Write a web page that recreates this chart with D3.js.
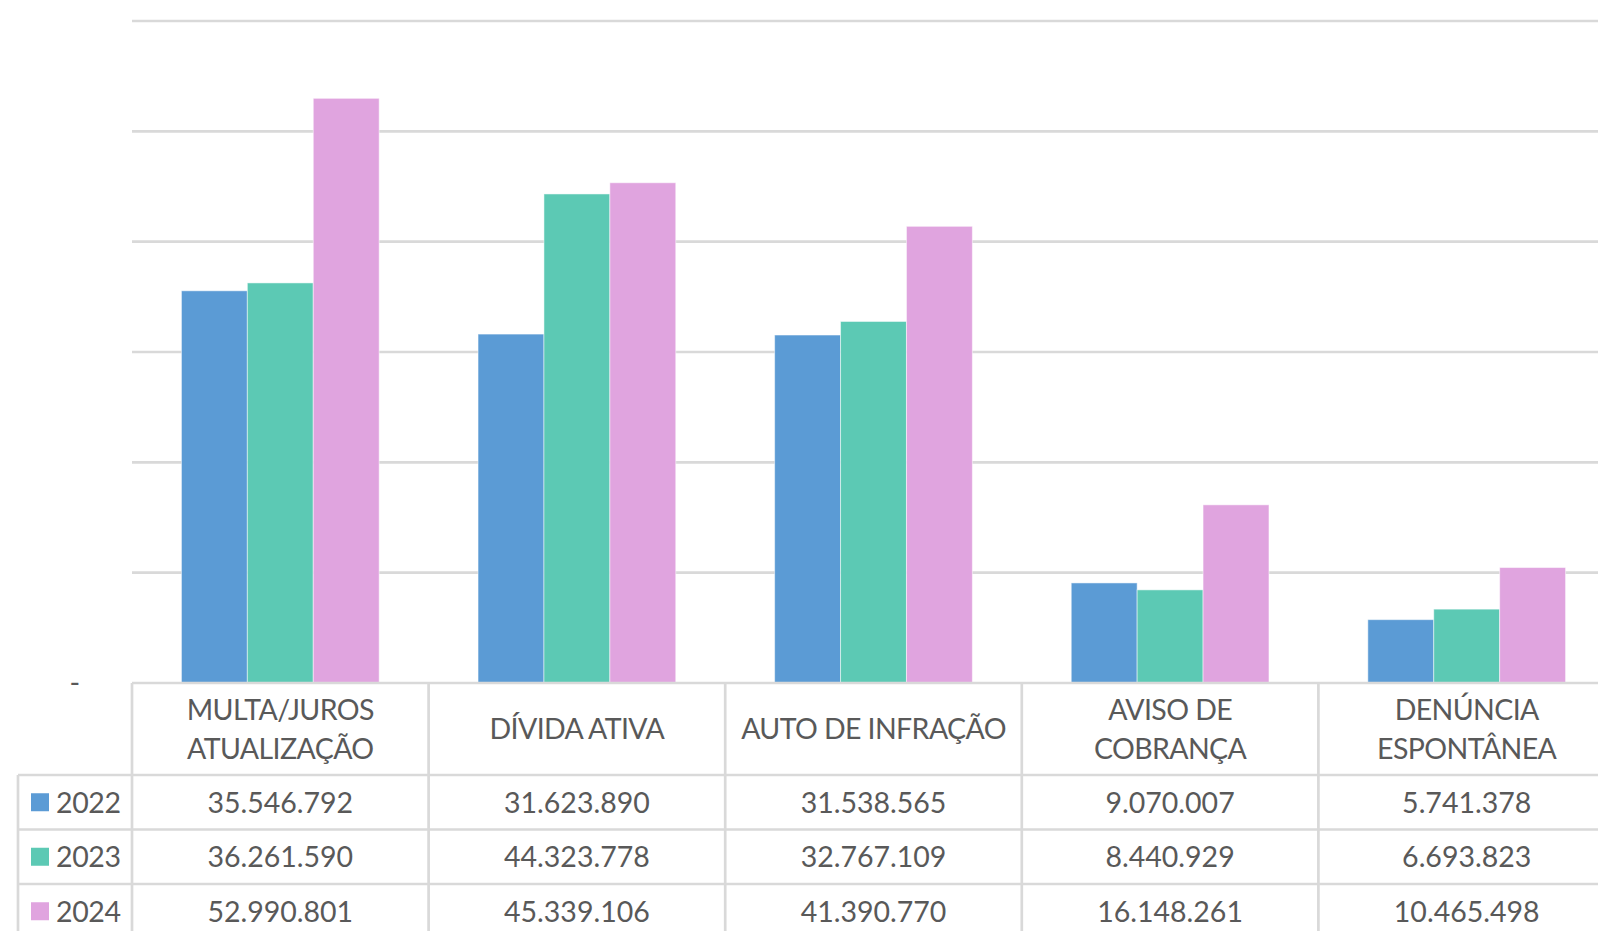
<!DOCTYPE html>
<html>
<head>
<meta charset="utf-8">
<script src="https://cdn.jsdelivr.net/npm/d3@7/dist/d3.min.js"></script>
<style>
  html, body { margin: 0; padding: 0; background: #fff; overflow: hidden; }
  svg { display: block; }
  text { font-family: Lato, "Open Sans", sans-serif; fill: #595959; }
</style>
</head>
<body>
<svg id="chart" width="1598" height="931"></svg>
<script>
// ---- data ----
const categories = ["MULTA/JUROS ATUALIZAÇÃO", "DÍVIDA ATIVA", "AUTO DE INFRAÇÃO", "AVISO DE COBRANÇA", "DENÚNCIA ESPONTÂNEA"];
const categoryLines = [["MULTA/JUROS", "ATUALIZAÇÃO"], ["DÍVIDA ATIVA"], ["AUTO DE INFRAÇÃO"], ["AVISO DE", "COBRANÇA"], ["DENÚNCIA", "ESPONTÂNEA"]];
const years = ["2022", "2023", "2024"];
const values2022 = [35546792, 31623890, 31538565, 9070007, 5741378];
const values2023 = [36261590, 44323778, 32767109, 8440929, 6693823];
const values2024 = [52990801, 45339106, 41390770, 16148261, 10465498];
const seriesValues = [values2022, values2023, values2024];
const yTicks = [0, 10000000, 20000000, 30000000, 40000000, 50000000, 60000000];
const yTickLabel = v => v === 0 ? "-" : "";
const colors = ["#5B9BD5", "#5CC9B4", "#E0A4DF"];

// ---- layout ----
const svg = d3.select("#chart");
const plotLeft = 132, colW = 296.6;
const plotRight = plotLeft + colW * categories.length;
const baseY = 683, topY = 21;
const headerH = 92, rowH = 54.5;
const legendLeft = 18;
const gridColor = "#D9D9D9", gridW = 2.7;
const fs = 28.5;

const x = d3.scaleBand().domain(categories).range([plotLeft, plotRight]).paddingInner(0).paddingOuter(0);
const x1 = d3.scaleBand().domain(years).range([colW * 0.75 / 4.5, colW - colW * 0.75 / 4.5]).padding(0);
const y = d3.scaleLinear().domain([0, 60000000]).range([baseY, topY]);

// gridlines
svg.append("g").selectAll("line").data(yTicks.filter(v => v > 0)).join("line")
  .attr("x1", plotLeft).attr("x2", plotRight)
  .attr("y1", d => y(d)).attr("y2", d => y(d))
  .attr("stroke", gridColor).attr("stroke-width", gridW);

// y axis (labels only)
const yAxis = d3.axisLeft(y).tickValues(yTicks).tickFormat(yTickLabel).tickSize(0).tickPadding(0);
const yg = svg.append("g").attr("transform", `translate(${plotLeft - 52},0)`).call(yAxis);
yg.select(".domain").remove();
yg.selectAll("text").style("font-family", "Lato, sans-serif").style("font-size", fs + "px").attr("fill", "#595959").attr("dy", "0.32em");

// bars
const groups = svg.append("g").selectAll("g").data(categories).join("g")
  .attr("transform", d => `translate(${x(d)},0)`);
groups.selectAll("rect").data((c, i) => years.map((yr, s) => ({ yr, s, v: seriesValues[s][i] }))).join("rect")
  .attr("x", d => x1(d.yr)).attr("width", x1.bandwidth())
  .attr("y", d => y(d.v)).attr("height", d => baseY - y(d.v))
  .attr("fill", d => colors[d.s])
  .attr("stroke", "#ffffff").attr("stroke-opacity", 0.5).attr("stroke-width", 1);

// table lines
const tbl = svg.append("g").attr("stroke", gridColor).attr("stroke-width", gridW);
const tableBottom = baseY + headerH + rowH * years.length;
tbl.append("line").attr("x1", plotLeft).attr("x2", plotRight).attr("y1", baseY).attr("y2", baseY);
years.forEach((yr, r) => {
  const yy = baseY + headerH + rowH * r;
  tbl.append("line").attr("x1", legendLeft).attr("x2", plotRight).attr("y1", yy).attr("y2", yy);
});
tbl.append("line").attr("x1", legendLeft).attr("x2", plotRight).attr("y1", tableBottom).attr("y2", tableBottom);
tbl.append("line").attr("x1", legendLeft).attr("x2", legendLeft).attr("y1", baseY + headerH).attr("y2", tableBottom);
categories.concat(["_end"]).forEach((c, i) => {
  const xx = plotLeft + colW * i;
  tbl.append("line").attr("x1", xx).attr("x2", xx).attr("y1", baseY).attr("y2", tableBottom);
});

// header texts
const hdr = svg.append("g");
categories.forEach((c, i) => {
  const lines = categoryLines[i];
  const cx = x(c) + colW / 2;
  const cy = baseY + headerH / 2;
  const lh = 38.5;
  lines.forEach((ln, k) => {
    hdr.append("text").attr("x", cx).attr("y", cy + (k - (lines.length - 1) / 2) * lh)
      .attr("text-anchor", "middle").attr("dy", "0.36em")
      .style("font-size", fs + "px").style("letter-spacing", "-0.6px").text(ln);
  });
});

// value rows & legend
const fmt = v => d3.format(",")(v).replace(/,/g, ".");
years.forEach((yr, r) => {
  const cy = baseY + headerH + rowH * r + rowH / 2;
  svg.append("rect").attr("x", 31).attr("y", cy - 9).attr("width", 18).attr("height", 18).attr("fill", colors[r]);
  svg.append("text").attr("x", 56).attr("y", cy).attr("dy", "0.36em").style("font-size", fs + "px").style("letter-spacing", "-0.4px").text(yr);
  categories.forEach((c, i) => {
    svg.append("text").attr("x", x(c) + colW / 2).attr("y", cy).attr("dy", "0.36em")
      .attr("text-anchor", "middle").style("font-size", fs + "px").text(fmt(seriesValues[r][i]));
  });
});
</script>
</body>
</html>
